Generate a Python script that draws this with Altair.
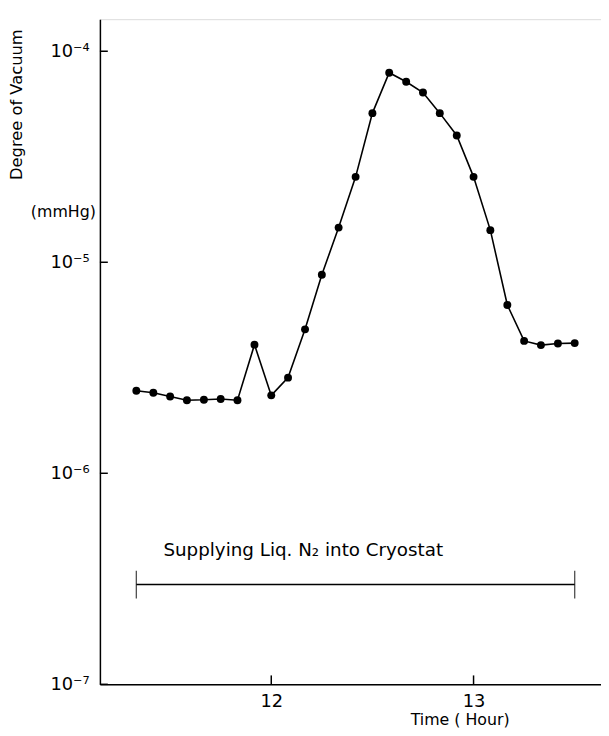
import altair as alt
import pandas as pd

# Time in hours (every 5 minutes from 11:20 to 13:30)
times = [11.333, 11.417, 11.5, 11.583, 11.667, 11.75, 11.833, 11.917, 12.0,
         12.083, 12.167, 12.25, 12.333, 12.417, 12.5, 12.583, 12.667, 12.75,
         12.833, 12.917, 13.0, 13.083, 13.167, 13.25, 13.333, 13.417, 13.5]
# Degree of vacuum (mmHg)
pressures = [2.46e-6, 2.41e-6, 2.31e-6, 2.22e-6, 2.23e-6, 2.25e-6, 2.22e-6, 4.07e-6, 2.34e-6,
             2.84e-6, 4.81e-6, 8.73e-6, 1.46e-5, 2.54e-5, 5.09e-5, 7.91e-5, 7.17e-5, 6.37e-5,
             5.09e-5, 3.99e-5, 2.54e-5, 1.42e-5, 6.27e-6, 4.24e-6, 4.05e-6, 4.12e-6, 4.14e-6]

x_ticks = [12, 13]
y_ticks = [1e-7, 1e-6, 1e-5, 1e-4]
y_tick_labels = ["10⁻⁷", "10⁻⁶", "10⁻⁵", "10⁻⁴"]

# Annotation: period of supplying liquid nitrogen
supply_start = [11.333]
supply_end = [13.5]
supply_level = [2.97e-7]
supply_text = ["Supplying  Liq. N₂  into  Cryostat"]
supply_text_x = [11.467]
supply_text_y = [4.35e-7]

FONT = "DejaVu Sans"
x_domain = [11.153, 13.630]
y_domain = [1e-7, 1.419e-4]

df = pd.DataFrame({"t": times, "p": pressures})

xs = alt.Scale(domain=x_domain, nice=False, zero=False)
ys = alt.Scale(type="log", domain=y_domain, nice=False)

label_expr = " : ".join(
    f"datum.value < {v * 3} ? '{lab}'" for v, lab in zip(y_ticks[:-1], y_tick_labels[:-1])
) + f" : '{y_tick_labels[-1]}'"

x_axis = alt.Axis(values=x_ticks, format="d", tickSize=0, grid=False, domainColor="black",
                  domainWidth=1.5, labelFont=FONT, labelFontSize=18, labelColor="black",
                  labelPadding=8, title="Time ( Hour)", titleFont=FONT, titleFontSize=16,
                  titleFontWeight="normal", titleColor="black", titleX=364, titleY=36,
                  titleAnchor="middle", titleBaseline="middle")
y_axis = alt.Axis(values=y_ticks, tickSize=0, grid=False, domainColor="black",
                  domainWidth=1.5, labelFont=FONT, labelFontSize=18, labelColor="black",
                  labelPadding=11, labelExpr=label_expr,
                  title="Degree of Vacuum", titleFont=FONT, titleFontSize=16.5,
                  titleFontWeight="normal", titleColor="black", titleX=-84, titleY=86,
                  titleAngle=270, titleAnchor="middle", titleBaseline="middle", titleAlign="center")

line = alt.Chart(df).mark_line(color="black", strokeWidth=1.6).encode(
    x=alt.X("t:Q", scale=xs, axis=x_axis),
    y=alt.Y("p:Q", scale=ys, axis=y_axis),
)
points = alt.Chart(df).mark_circle(color="black", opacity=1, size=64).encode(
    x=alt.X("t:Q", scale=xs), y=alt.Y("p:Q", scale=ys)
)

xt = alt.Chart(pd.DataFrame({"v": x_ticks})).mark_rule(color="black", strokeWidth=1.5).encode(
    x=alt.X("v:Q", scale=xs), y=alt.value(673), y2=alt.value(664)
)
yt = alt.Chart(pd.DataFrame({"v": y_ticks})).mark_rule(color="black", strokeWidth=1.5).encode(
    y=alt.Y("v:Q", scale=ys), x=alt.value(0), x2=alt.value(8)
)

sup_df = pd.DataFrame({"a": supply_start, "b": supply_end, "y": supply_level})
bracket = alt.Chart(sup_df).mark_rule(color="black", strokeWidth=1.4).encode(
    x=alt.X("a:Q", scale=xs), x2="b:Q", y=alt.Y("y:Q", scale=ys)
)
ends_df = pd.DataFrame({"x": supply_start + supply_end, "y": supply_level * 2})
caps = alt.Chart(ends_df).mark_tick(color="black", orient="vertical", size=28, thickness=1.3).encode(
    x=alt.X("x:Q", scale=xs), y=alt.Y("y:Q", scale=ys)
)
txt = alt.Chart(pd.DataFrame({"x": supply_text_x, "y": supply_text_y, "s": supply_text})).mark_text(
    font=FONT, fontSize=18.5, align="left", baseline="middle", color="black"
).encode(x=alt.X("x:Q", scale=xs), y=alt.Y("y:Q", scale=ys), text="s:N")

unit = alt.Chart(pd.DataFrame({"s": ["(mmHg)"]})).mark_text(
    font=FONT, fontSize=16, align="center", baseline="middle", color="black"
).encode(x=alt.value(-37), y=alt.value(195), text="s:N")

chart = alt.layer(line, points, xt, yt, bracket, caps, txt, unit).properties(
    width=507, height=673,
    autosize=alt.AutoSizeParams(type="none"),
    padding={"left": 93, "top": 7, "right": 0, "bottom": 48},
).configure_view(stroke=None).configure(background="white")

chart.save("out.html", embed_options={"renderer": "svg", "actions": False})
